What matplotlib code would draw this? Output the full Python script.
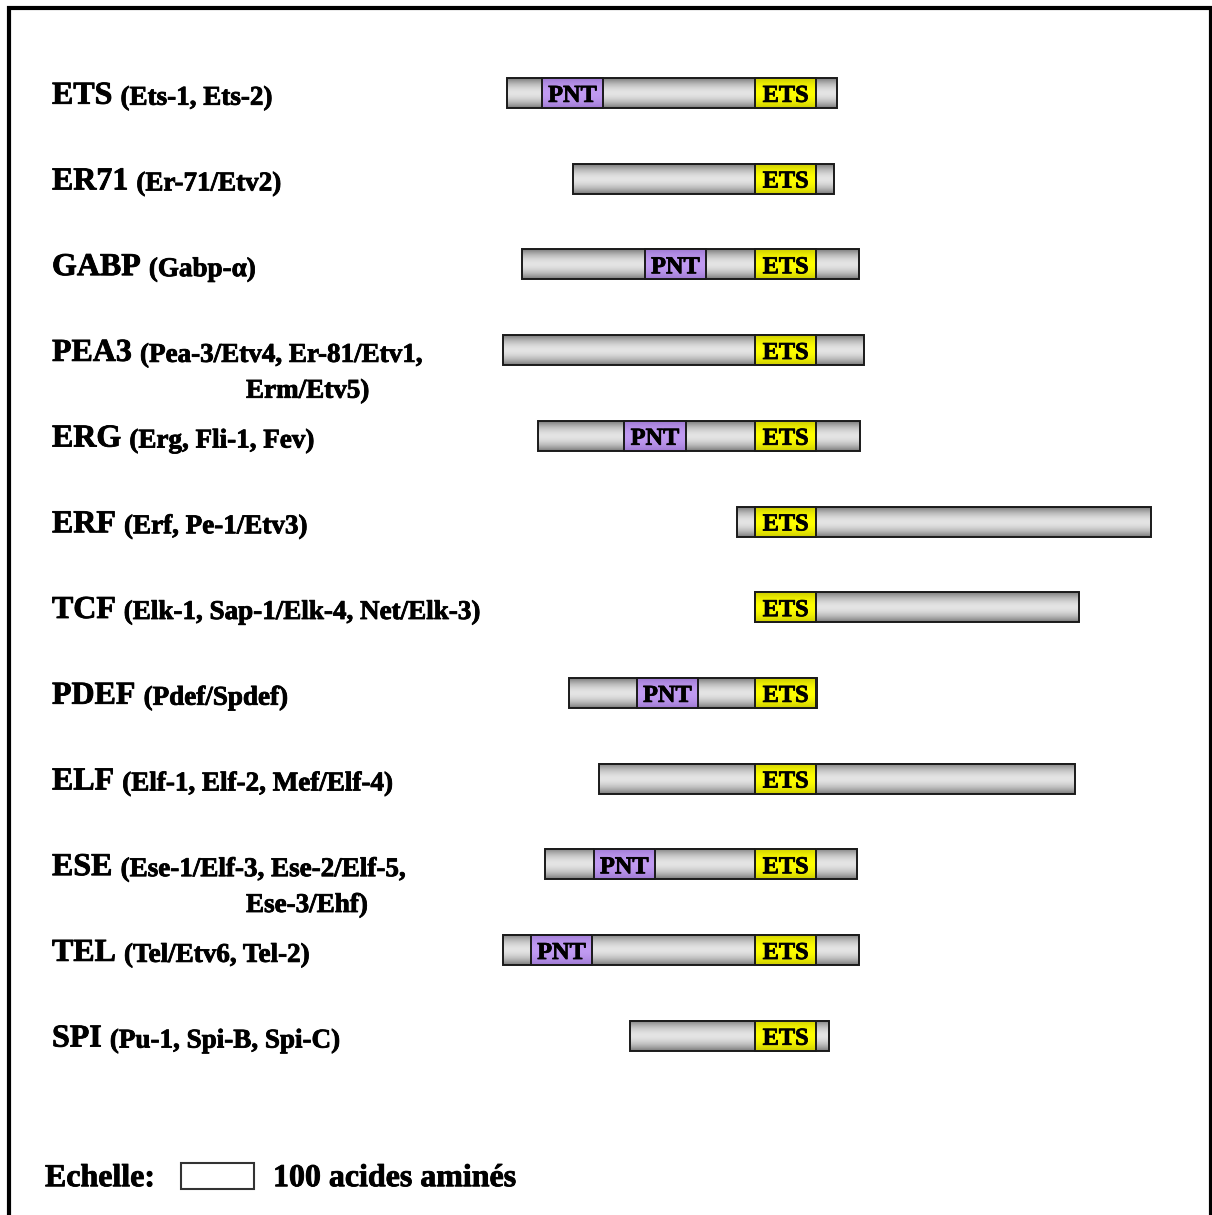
import numpy as np
import matplotlib
matplotlib.use("Agg")
from matplotlib import pyplot as plt
from matplotlib.patches import Rectangle
from matplotlib.colors import LinearSegmentedColormap
import matplotlib.patheffects as pe

# positions in amino acids, relative to the start of the ETS domain
families = ["ETS", "ER71", "GABP", "PEA3", "ERG", "ERF", "TCF", "PDEF", "ELF", "ESE", "TEL", "SPI"]
members = ["(Ets-1, Ets-2)", "(Er-71/Etv2)", "(Gabp-\u03b1)", "(Pea-3/Etv4, Er-81/Etv1,",
           "(Erg, Fli-1, Fev)", "(Erf, Pe-1/Etv3)", "(Elk-1, Sap-1/Elk-4, Net/Elk-3)",
           "(Pdef/Spdef)", "(Elf-1, Elf-2, Mef/Elf-4)", "(Ese-1/Elf-3, Ese-2/Elf-5,",
           "(Tel/Etv6, Tel-2)", "(Pu-1, Spi-B, Spi-C)"]
members_line2 = ["", "", "", "Erm/Etv5)", "", "", "", "", "", "Ese-3/Ehf)", "", ""]
starts = [-340, -249, -319, -345, -297, -25, 0, -255, -214, -288, -345, -171]
ends = [112, 108, 142, 149, 144, 542, 444, 85, 438, 140, 142, 101]
pnt_starts = [-292, None, -151, None, -179, None, None, -162, None, -221, -307, None]
ets_start = 0
domain_len = 84
scale_len = 100

plt.rcParams['font.family'] = ['Liberation Serif', 'DejaVu Serif']
plt.rcParams['font.weight'] = 'bold'
bold = [pe.withStroke(linewidth=0.6, foreground='black')]

grey = LinearSegmentedColormap.from_list("grey", ["#7a7a7a", "#e4e4e4"])
purple = LinearSegmentedColormap.from_list("purple", ["#9e7ad2", "#c19bf2"])
yellow = LinearSegmentedColormap.from_list("yellow", ["#cccc00", "#ffff00"])

fig = plt.figure(figsize=(12.12, 12.15), dpi=100)
ax = fig.add_axes([0, 0, 1, 1])
ax.axis('off')

H = 0.175  # half bar height (rows)
t = np.linspace(-1, 1, 80)
profile = 1 - np.abs(t) ** 1.8


def box(x0, x1, yc, cmap, z):
    ax.imshow(profile[:, None], cmap=cmap, vmin=0, vmax=1, extent=(x0, x1, yc + H, yc - H),
              aspect='auto', interpolation='bilinear', zorder=z)
    ax.add_patch(Rectangle((x0, yc - H), x1 - x0, 2 * H, fill=False, ec='#1a1a1a', lw=1.4, zorder=z + 0.5))


lab = ax.get_yaxis_transform()
for i in range(len(families)):
    box(starts[i], ends[i], i, grey, 2)
    if pnt_starts[i] is not None:
        box(pnt_starts[i], pnt_starts[i] + domain_len, i, purple, 3)
        ax.text(pnt_starts[i] + domain_len / 2, i + 0.01, "PNT", ha='center', va='center_baseline',
                fontsize=17.5, zorder=5, path_effects=bold)
    box(ets_start, ets_start + domain_len, i, yellow, 3)
    ax.text(ets_start + domain_len / 2, i + 0.01, "ETS", ha='center', va='center_baseline',
            fontsize=17.5, zorder=5, path_effects=bold)

    t1 = ax.text(52 / 1212, i + 0.125, families[i], transform=lab, fontsize=23, va='baseline',
                 ha='left', path_effects=bold)
    ax.annotate(members[i], xy=(1, 0), xycoords=t1, xytext=(8, 0), textcoords='offset pixels',
                fontsize=19.5, va='bottom', ha='left', path_effects=bold)
    if members_line2[i]:
        ax.text(246 / 1212, i + 0.125 + 0.43, members_line2[i], transform=lab, fontsize=19.5,
                va='baseline', ha='left', path_effects=bold)

# scale
ys = 12.64
ax.add_patch(Rectangle((-786, ys - 0.152), scale_len, 0.304, fc='white', ec='#333333', lw=1.5, zorder=3))
ax.text(45 / 1212, 12.754, "Echelle:", transform=lab, fontsize=23, va='baseline', ha='left',
        path_effects=bold)
ax.text(273 / 1212, 12.754, "100 acides amin\u00e9s", transform=lab, fontsize=23, va='baseline',
        ha='left', path_effects=bold)

ax.set_xlim(-1034.2, 626.0)
ax.set_ylim(13.09, -1.085)

# frame
fig.add_artist(Rectangle((8.5 / 1212, -0.02), 1202 / 1212, (1215 - 8) / 1215 + 0.02,
                         transform=fig.transFigure, fill=False, ec='black', lw=3))

fig.savefig("out.png", dpi=100)
